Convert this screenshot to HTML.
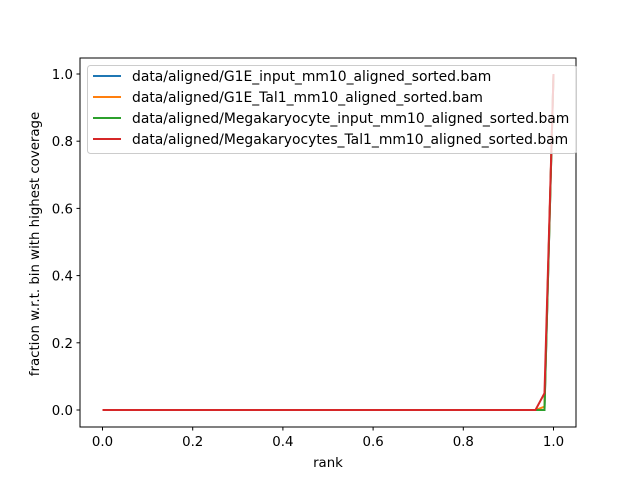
<!DOCTYPE html>
<html><head><meta charset="utf-8"><style>
body{margin:0;background:#fff;}
svg text{font-family:"DejaVu Sans","Liberation Sans",sans-serif;font-size:13.33px;fill:#000;}
svg #legend text{font-size:13.9px;}
</style></head><body>
<svg id="chart" width="640" height="480">
<rect x="0" y="0" width="640" height="480" fill="#fff"/>
<g id="grid"></g>
<g id="marks"></g>
<rect x="80" y="58" width="496" height="369" fill="none" stroke="#000" stroke-width="1"/>
<text x="328" y="467" text-anchor="middle">rank</text>
<text transform="translate(39,244) rotate(-90)" text-anchor="middle">fraction w.r.t. bin with highest coverage</text>
<g id="legend"></g>
</svg>
<script>
const ranks=[0,0.02,0.96,0.98,1.0];
const seriesNames=["data/aligned/G1E_input_mm10_aligned_sorted.bam","data/aligned/G1E_Tal1_mm10_aligned_sorted.bam","data/aligned/Megakaryocyte_input_mm10_aligned_sorted.bam","data/aligned/Megakaryocytes_Tal1_mm10_aligned_sorted.bam"];
const colors=["#1f77b4","#ff7f0e","#2ca02c","#d62728"];
const s0=[0,0,0,0,1.0];
const s1=[0,0,0,0.01,1.0];
const s2=[0,0,0,0,1.0];
const s3=[0,0,0,0.05,1.0];
const xTicks=[0,0.2,0.4,0.6,0.8,1.0];
const yTicks=[0,0.2,0.4,0.6,0.8,1.0];
const series=[s0,s1,s2,s3];
const NS="http://www.w3.org/2000/svg";
function X(v){return 102.5+v*451;}
function Y(v){return 410-v*336;}
const grid=document.getElementById('grid');
function mk(t,a,p){const e=document.createElementNS(NS,t);for(const k in a)e.setAttribute(k,a[k]);p.appendChild(e);return e;}
xTicks.forEach(t=>{
  const l=mk('line',{x1:X(t),x2:X(t),y1:427,y2:430.5,stroke:'#000'},grid);
  
  
  const tx=mk('text',{x:X(t),y:446,'text-anchor':'middle'},grid);tx.textContent=t.toFixed(1);
  
  
});
yTicks.forEach(t=>{
  const l=mk('line',{x1:76.5,x2:80,y1:Y(t),y2:Y(t),stroke:'#000'},grid);
  
  
  const tx=mk('text',{x:73,y:Y(t)+5,'text-anchor':'end'},grid);tx.textContent=t.toFixed(1);
  
  
});
const marks=document.getElementById('marks');
series.forEach((s,i)=>{
  const pts=s.map((v,j)=>X(ranks[j])+','+Y(v)).join(' ');
  const p=mk('polyline',{points:pts,fill:'none',stroke:colors[i],'stroke-width':2},marks);
  
  
});
const lg=document.getElementById('legend');
const box=mk('rect',{x:87.5,y:65.5,width:489,height:88,rx:3,fill:'#fff','fill-opacity':0.8,stroke:'#ccc'},lg);


seriesNames.forEach((n,i)=>{
  const y=76+i*21;
  const l=mk('line',{x1:93,x2:121,y1:y,y2:y,stroke:colors[i],'stroke-width':2},lg);
  
  
  const t=mk('text',{x:132,y:y+5},lg);t.textContent=n;
  
  
});
</script>
</body></html>
